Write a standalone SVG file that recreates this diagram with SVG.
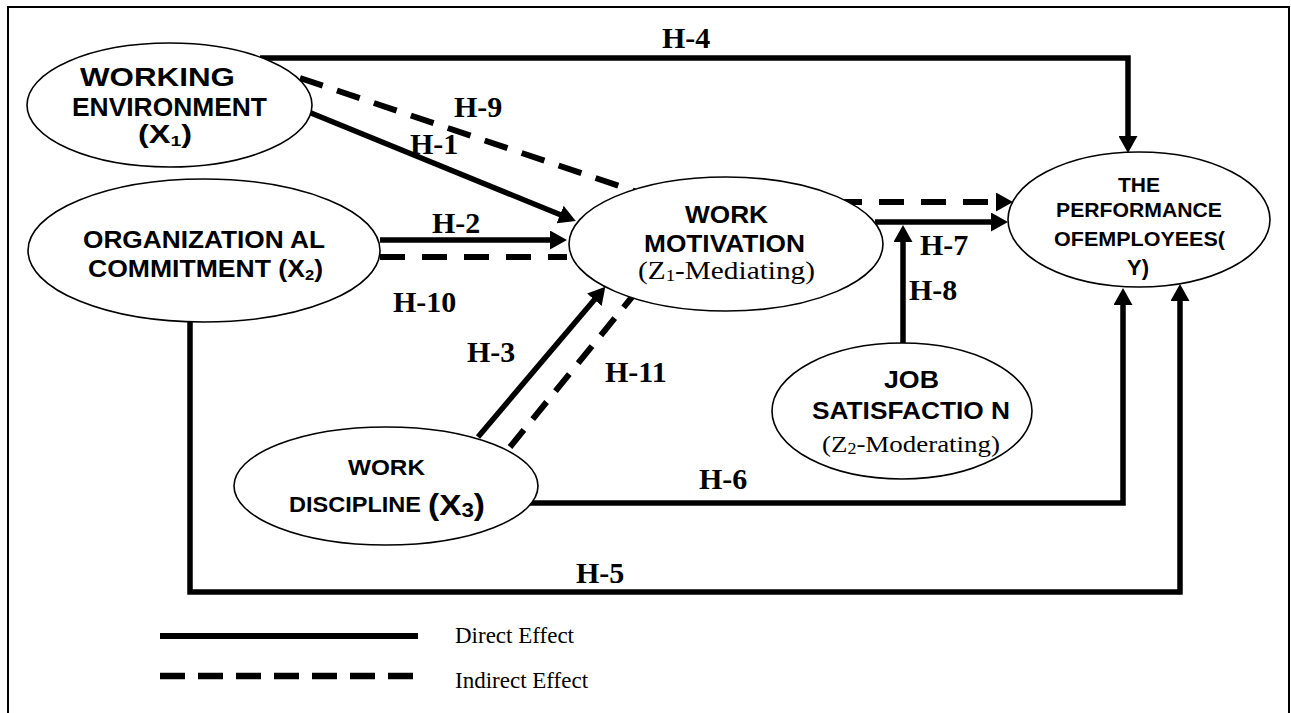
<svg xmlns="http://www.w3.org/2000/svg" width="1291" height="713" viewBox="0 0 1291 713">
<style>
.node{fill:#fff;stroke:#000;stroke-width:1.6}
.sb{font-family:"Liberation Sans",Arial,sans-serif;font-weight:bold;fill:#000}
.sr{font-family:"Liberation Serif","Times New Roman",serif;fill:#000}
.lb{font-family:"Liberation Serif","Times New Roman",serif;font-weight:bold;font-size:30px;fill:#000}
.c{fill:none;stroke:#000;stroke-width:5.5}
.d{fill:none;stroke:#000;stroke-width:6;stroke-dasharray:24 15}
</style>
<defs>
<marker id="arr" markerUnits="userSpaceOnUse" markerWidth="17" markerHeight="19" viewBox="0 0 17 19" refX="1" refY="9.5" orient="auto">
<path d="M0,0 L17,9.5 L0,19 Z" fill="#000"/>
</marker>
</defs>
<rect x="0" y="0" width="1291" height="713" fill="#fff"/>
<rect x="8" y="7" width="1281" height="720" fill="none" stroke="#000" stroke-width="2"/>

<g id="connectors">
<path class="c" d="M260,58 H1128 V137" marker-end="url(#arr)"/>
<path class="d" d="M300,78 L637,192"/>
<path class="c" d="M311,113 L561,215" marker-end="url(#arr)"/>
<path class="c" d="M380,240 H551" marker-end="url(#arr)"/>
<path class="d" style="stroke-dasharray:25 17" d="M380,257 H567"/>
<path class="c" d="M478,437 L595,299" marker-end="url(#arr)"/>
<path class="d" style="stroke-dasharray:22 14" d="M510,447 L632,297"/>
<path class="d" style="stroke-dasharray:25 17" d="M837,202 H997" marker-end="url(#arr)"/>
<path class="c" d="M875,222 H992" marker-end="url(#arr)"/>
<path class="c" d="M903,343 V241" marker-end="url(#arr)"/>
<path class="c" d="M530,503 H1123 V304" marker-end="url(#arr)"/>
<path class="c" d="M190,322 V592 H1180 V300" marker-end="url(#arr)"/>
</g>

<g id="labels">
<text class="lb" x="662" y="48">H-4</text>
<text class="lb" x="454" y="117">H-9</text>
<text class="lb" x="410" y="154">H-1</text>
<text class="lb" x="432" y="233">H-2</text>
<text class="lb" x="393" y="312">H-10</text>
<text class="lb" x="467" y="362">H-3</text>
<text class="lb" x="605" y="382">H-11</text>
<text class="lb" x="920" y="255">H-7</text>
<text class="lb" x="909" y="300">H-8</text>
<text class="lb" x="699" y="489">H-6</text>
<text class="lb" x="576" y="583">H-5</text>
</g>

<g id="working-environment">
<ellipse class="node" cx="169.5" cy="105" rx="142.5" ry="62"/>
<text class="sb" font-size="25" x="80" y="86" textLength="155" lengthAdjust="spacingAndGlyphs">WORKING</text>
<text class="sb" font-size="25" x="72" y="116" textLength="195" lengthAdjust="spacingAndGlyphs">ENVIRONMENT</text>
<text class="sb" font-size="25" x="138" y="143" textLength="54" lengthAdjust="spacingAndGlyphs">(X<tspan font-size="15" dy="3">1</tspan><tspan dy="-3">)</tspan></text>
</g>

<g id="organizational-commitment">
<ellipse class="node" cx="204" cy="250.5" rx="176" ry="71.5"/>
<text class="sb" font-size="24" x="83" y="248" textLength="242" lengthAdjust="spacingAndGlyphs">ORGANIZATION AL</text>
<text class="sb" font-size="24" x="88" y="277" textLength="235" lengthAdjust="spacingAndGlyphs">COMMITMENT (X<tspan font-size="15" dy="3">2</tspan><tspan dy="-3">)</tspan></text>
</g>

<g id="work-motivation">
<ellipse class="node" cx="726" cy="244" rx="157" ry="67"/>
<text class="sb" font-size="24" x="685" y="223" textLength="83" lengthAdjust="spacingAndGlyphs">WORK</text>
<text class="sb" font-size="24" x="644" y="252" textLength="161" lengthAdjust="spacingAndGlyphs">MOTIVATION</text>
<text class="sr" font-size="25" x="638" y="279" textLength="177" lengthAdjust="spacingAndGlyphs">(Z<tspan font-size="16" dy="2">1</tspan><tspan dy="-2">-Mediating)</tspan></text>
</g>

<g id="performance">
<ellipse class="node" cx="1139" cy="219.5" rx="131" ry="67.5"/>
<text class="sb" font-size="21" x="1118" y="192" textLength="42" lengthAdjust="spacingAndGlyphs">THE</text>
<text class="sb" font-size="21" x="1056" y="217" textLength="166" lengthAdjust="spacingAndGlyphs">PERFORMANCE</text>
<text class="sb" font-size="21" x="1054" y="246" textLength="171" lengthAdjust="spacingAndGlyphs">OFEMPLOYEES(</text>
<text class="sb" font-size="22" x="1127" y="275">Y)</text>
</g>

<g id="job-satisfaction">
<ellipse class="node" cx="902" cy="411" rx="130" ry="68"/>
<text class="sb" font-size="23" x="884" y="388" textLength="55" lengthAdjust="spacingAndGlyphs">JOB</text>
<text class="sb" font-size="23" x="812" y="419" textLength="198" lengthAdjust="spacingAndGlyphs">SATISFACTIO N</text>
<text class="sr" font-size="24" x="822" y="452" textLength="178" lengthAdjust="spacingAndGlyphs">(Z<tspan font-size="16" dy="2">2</tspan><tspan dy="-2">-Moderating)</tspan></text>
</g>

<g id="work-discipline">
<ellipse class="node" cx="386" cy="486" rx="152" ry="59"/>
<text class="sb" font-size="22" x="348" y="475" textLength="77" lengthAdjust="spacingAndGlyphs">WORK</text>
<text class="sb" font-size="22" x="289" y="512" textLength="132" lengthAdjust="spacingAndGlyphs">DISCIPLINE</text>
<text class="sb" font-size="30" x="428" y="515" textLength="57" lengthAdjust="spacingAndGlyphs">(X<tspan font-size="20" dy="2">3</tspan><tspan dy="-2">)</tspan></text>
</g>

<g id="legend">
<line x1="160" y1="636" x2="418" y2="636" stroke="#000" stroke-width="6"/>
<line x1="160" y1="676" x2="418" y2="676" stroke="#000" stroke-width="6.5" stroke-dasharray="25 13"/>
<text class="sr" font-size="23" x="455" y="643">Direct Effect</text>
<text class="sr" font-size="23" x="455" y="688">Indirect Effect</text>
</g>
</svg>
